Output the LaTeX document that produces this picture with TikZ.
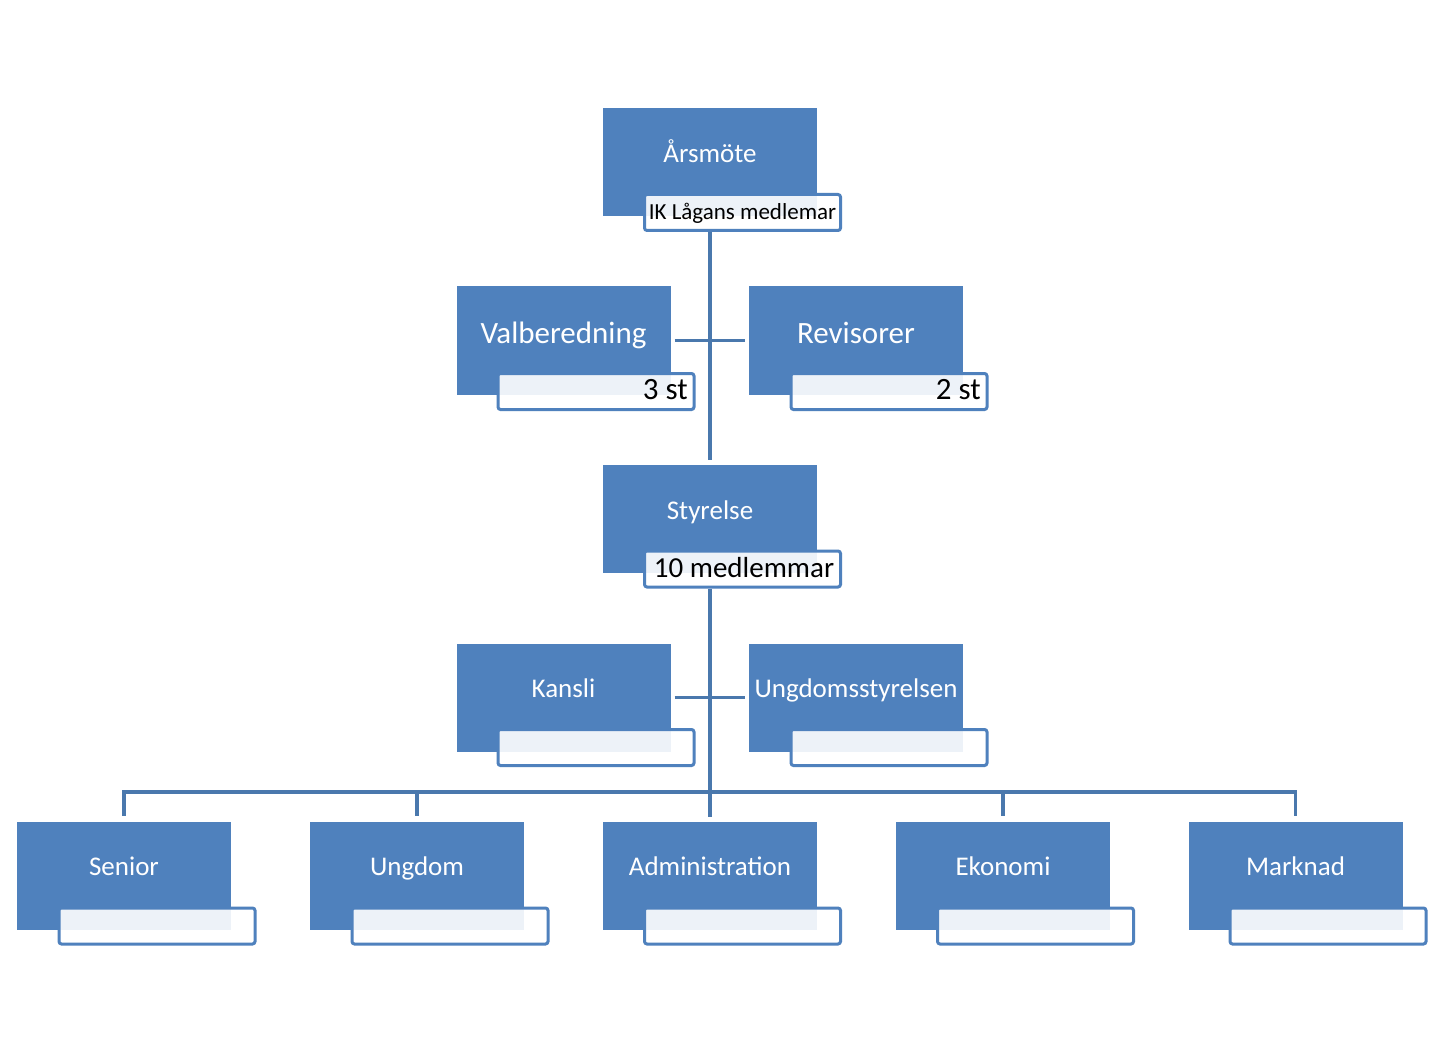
\documentclass[tikz,border=0pt]{standalone}
\usepackage{fontspec}
\setmainfont{Carlito}
\definecolor{boxblue}{HTML}{4F81BD}
\definecolor{linkblue}{HTML}{4A78AD}
\begin{document}
\begin{tikzpicture}[x=1pt,y=-1pt,
  mainbox/.style={fill=boxblue, draw=none, minimum width=214pt, minimum height=108pt, inner sep=0pt},
  subbox/.style={fill=white, fill opacity=0.9, draw=boxblue, draw opacity=1, line width=3pt, rounded corners=2.5pt, minimum width=196pt, minimum height=36pt, inner sep=0pt},
  maintext/.style={text=white, font=\fontsize{27}{32}\selectfont, inner sep=0pt, anchor=base},
  bigtext/.style={text=white, font=\fontsize{31}{36}\selectfont, inner sep=0pt, anchor=base},
  subtext/.style={text=black, inner sep=0pt},
  link/.style={draw=linkblue, line width=3.5pt}
]
\useasboundingbox (0,0) rectangle (1441,1051);
\fill[white] (0,0) rectangle (1441,1051);

\coordinate (bus) at (710,792);

\node[mainbox] (ars) at (710,162) {};
\node[mainbox] (val) at (563.5,340.5) {};
\node[mainbox] (rev) at (856,340.5) {};
\node[mainbox] (sty) at (710,518.5) {};
\node[mainbox] (kan) at (563.5,697.5) {};
\node[mainbox] (ung) at (856,697.5) {};
\node[mainbox] (sen) at (124,875.5) {};
\node[mainbox] (ugd) at (417,875.5) {};
\node[mainbox] (adm) at (710,875.5) {};
\node[mainbox] (eko) at (1003,875.5) {};
\node[mainbox] (mar) at (1295.5,875.5) {};

\node[subbox] (ars2) at (742.5,212.5) {};
\node[subbox] (val2) at (596,391.5) {};
\node[subbox] (rev2) at (889,391.5) {};
\node[subbox] (sty2) at (742.5,569) {};
\node[subbox] (kan2) at (596,747.5) {};
\node[subbox] (ung2) at (889,747.5) {};
\node[subbox] (sen2) at (157,926) {};
\node[subbox] (ugd2) at (450,926) {};
\node[subbox] (adm2) at (742.5,926) {};
\node[subbox] (eko2) at (1035.5,926) {};
\node[subbox] (mar2) at (1328,926) {};

% ---- connectors ----
\draw[link, shorten >=4pt] (ars.center |- ars2.south) -- (sty.north);
\draw[link, shorten >=4pt, shorten <=4pt] (val.east) -- (rev.west);
\draw[link, shorten >=4pt] (sty.center |- sty2.south) -- (adm.north);
\draw[link, shorten >=4pt, shorten <=4pt] (kan.east) -- (ung.west);
\draw[link, line cap=rect] (sen.north |- bus) -- (mar.north |- bus);
\foreach \n in {sen,ugd,adm,eko,mar}{
  \draw[link, shorten >=5pt] (\n.north |- bus) -- (\n.north);
}

% ---- texts ----
\node[maintext] (tars) at (710,163) {Årsmöte};
\node[bigtext] (tval) at (563.5,343) {Valberedning};
\node[bigtext] (trev) at (856,343) {Revisorer};
\node[maintext] (tsty) at (710,519.5) {Styrelse};
\node[maintext] (tkan) at (563.5,697) {Kansli};
\node[maintext] (tung) at (856,697) {Ungdomsstyrelsen};
\node[maintext] (tsen) at (124,875.5) {Senior};
\node[maintext] (tugd) at (417,875.5) {Ungdom};
\node[maintext] (tadm) at (710,875.5) {Administration};
\node[maintext] (teko) at (1003,875.5) {Ekonomi};
\node[maintext] (tmar) at (1295.5,875.5) {Marknad};

\node[subtext, font=\fontsize{23}{27}\selectfont, anchor=base] (tars2) at (742.5,219.5) {IK Lågans medlemar};
\node[subtext, font=\fontsize{31}{36}\selectfont, anchor=base east] (tval2) at (688,399) {3 st};
\node[subtext, font=\fontsize{31}{36}\selectfont, anchor=base east] (trev2) at (981,399) {2 st};
\node[subtext, font=\fontsize{29}{34}\selectfont, anchor=base] (tsty2) at (744,577) {10 medlemmar};
\end{tikzpicture}
\end{document}
